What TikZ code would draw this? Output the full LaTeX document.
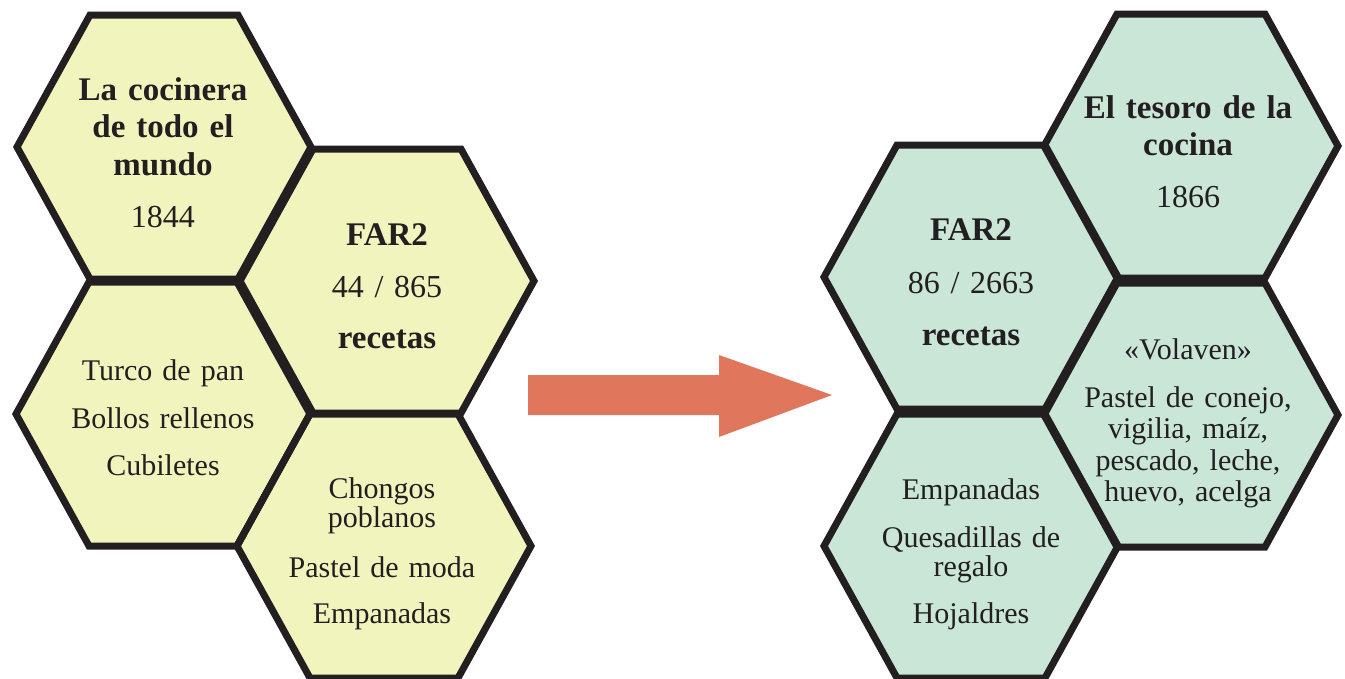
\documentclass[tikz,border=0pt]{standalone}
\usepackage{fontspec}
\setmainfont{Liberation Serif}
\definecolor{hexline}{HTML}{231F20}
\definecolor{paleyellow}{HTML}{F2F4BE}
\definecolor{palemint}{HTML}{C9E6D7}
\definecolor{arrowred}{HTML}{E0765C}
\tikzset{
  hexedge/.style={draw=hexline, line width=7pt, line join=miter},
  oldhex/.style={fill=paleyellow},
  newhex/.style={fill=palemint},
  label/.style={text width=290pt, align=center, anchor=base, inner sep=0pt,
    text=hexline, font=\fontsize{30}{29}\selectfont},
  title/.style={label, font=\fontsize{33}{37.5}\selectfont\bfseries},
  bignum/.style={label, font=\fontsize{32}{32}\selectfont},
  blockarrow/.style={fill=arrowred, draw=none},
}
% hexagon outline around a named centre
\newcommand{\hexpath}[1]{(#1) ++(-147,0) -- ++(73,-132) -- ++(148,0) -- ++(73,132) -- ++(-73,132) -- ++(-148,0) -- cycle}
\begin{document}
\begin{tikzpicture}[x=1pt, y=-1pt]
\useasboundingbox (0,0) rectangle (1345,678);

% centres of the hexagons
\coordinate (hA) at (164,147);
\coordinate (hB) at (387,281);
\coordinate (hC) at (163,414);
\coordinate (hD) at (384,546);
\coordinate (hE) at (971,277);
\coordinate (hF) at (1191,146);
\coordinate (hG) at (1191,415);
\coordinate (hH) at (971,546);

% fills first, then outlines
\foreach \h in {hA,hB,hC,hD} \fill[oldhex] \hexpath{\h};
\foreach \h in {hE,hF,hG,hH} \fill[newhex] \hexpath{\h};
\foreach \h in {hA,hB,hC,hD,hE,hF,hG,hH} \draw[hexedge] \hexpath{\h};

% left cluster
\node[title] (a1) at (163,100) {La cocinera\\de todo el\\mundo};
\node[bignum] (a2) at (163,227) {1844};
\node[title] (b1) at (387,245) {FAR2};
\node[bignum] (b2) at (387,297) {44 / 865};
\node[title] (b3) at (387,348) {recetas};
\node[label] (c1) at (163,380) {Turco de pan};
\node[label] (c2) at (163,428) {Bollos rellenos};
\node[label] (c3) at (163,475) {Cubiletes};
\node[label] (d1) at (382,498) {Chongos\\poblanos};
\node[label] (d2) at (382,577) {Pastel de moda};
\node[label] (d3) at (382,623) {Empanadas};

% right cluster
\node[title] (e1) at (971,240) {FAR2};
\node[bignum] (e2) at (971,293) {86 / 2663};
\node[title] (e3) at (971,345) {recetas};
\node[title] (f1) at (1188,118) {El tesoro de la\\cocina};
\node[bignum] (f2) at (1188,207) {1866};
\node[label] (g1) at (1188,359) {«Volaven»};
\node[label, font=\fontsize{30}{31.5}\selectfont] (g2) at (1188,407) {Pastel de conejo,\\vigilia, maíz,\\pescado, leche,\\huevo, acelga};
\node[label] (h1) at (971,499) {Empanadas};
\node[label] (h2) at (971,547) {Quesadillas de\\regalo};
\node[label] (h3) at (971,623) {Hojaldres};

% block arrow between the two clusters
\coordinate (tail) at (528,395);
\coordinate (tip) at (832,395);
\fill[blockarrow] (tail) ++(0,-20) -- ++(191,0) -- ++(0,-20) -- (tip)
  -- ++(-113,42) -- ++(0,-22) -- ++(-191,0) -- cycle;
\end{tikzpicture}
\end{document}
